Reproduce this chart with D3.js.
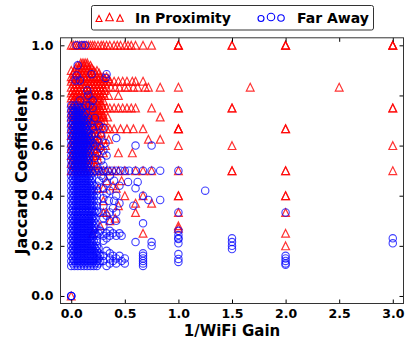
<!DOCTYPE html>
<html>
<head>
<meta charset="utf-8">
<script src="https://cdn.jsdelivr.net/npm/d3@7"></script>
<style>
  html, body { margin: 0; padding: 0; background: #fff; }
  svg { display: block; font-family: "DejaVu Sans", sans-serif; }
</style>
</head>
<body>
<div id="chart"></div>
<script>
// tick values
const xTicks = [0, 0.5, 1.0, 1.5, 2.0, 2.5, 3.0];
const yTicks = [0, 0.2, 0.4, 0.6, 0.8, 1.0];

// series names
const seriesNames = ['In Proximity', 'Far Away'];

// In Proximity: rows of [jaccard, list of 1/wifi gain values]
const proximityRows = [
  [1.0, [0, 0.02, 0.04, 0.06, 0.08, 0.1, 0.12, 0.14, 0.16, 0.18, 0.2, 0.22, 0.25, 0.28, 0.3, 0.33, 0.36, 0.4, 0.43, 0.46, 0.5, 0.53, 0.56, 0.6, 0.67, 0.75, 1, 1, 1, 1.5, 1.5, 2, 2, 2, 3, 3, 3]],
  [0.93, [0.09, 0.11, 0.13, 0.15]],
  [0.92, [0.06, 0.09, 0.12, 0.15, 0.18]],
  [0.91, [0.04, 0.07, 0.1, 0.13, 0.16, 0.19]],
  [0.9, [0, 0.03, 0.06, 0.09, 0.12, 0.15, 0.18, 0.21, 0.24]],
  [0.89, [0.02, 0.05, 0.08, 0.11, 0.14, 0.17, 0.2, 0.23, 0.26]],
  [0.875, [0, 0.03, 0.06, 0.09, 0.12, 0.15, 0.18, 0.21, 0.24, 0.27, 0.3, 0.33]],
  [0.867, [0.01, 0.04, 0.07, 0.1, 0.13, 0.16, 0.19, 0.22, 0.25, 0.28, 0.31, 0.35]],
  [0.857, [0, 0.03, 0.06, 0.09, 0.12, 0.15, 0.18, 0.21, 0.24, 0.27, 0.3, 0.33, 0.36, 0.4, 0.44, 0.48, 0.52, 0.57, 0.6, 0.67]],
  [0.846, [0.02, 0.05, 0.08, 0.11, 0.14, 0.17, 0.2, 0.23, 0.26, 0.29, 0.32]],
  [0.833, [0, 0.03, 0.06, 0.09, 0.12, 0.15, 0.18, 0.21, 0.24, 0.27, 0.3, 0.33, 0.37, 0.41, 0.45, 0.5, 0.53, 0.58, 0.62, 0.69, 0.72, 0.83, 1, 1.67, 2.5]],
  [0.82, [0.01, 0.04, 0.07, 0.1, 0.13, 0.16, 0.19, 0.22, 0.25, 0.28, 0.31]],
  [0.81, [0, 0.03, 0.06, 0.09, 0.12, 0.15, 0.18, 0.21, 0.24, 0.27, 0.3]],
  [0.8, [0.01, 0.04, 0.07, 0.1, 0.13, 0.16, 0.19, 0.22, 0.25, 0.28, 0.31, 0.35, 0.44]],
  [0.79, [0, 0.03, 0.06, 0.09, 0.12, 0.15, 0.18, 0.21, 0.24, 0.27]],
  [0.78, [0.02, 0.05, 0.08, 0.11, 0.14, 0.17, 0.2, 0.23, 0.26, 0.3]],
  [0.77, [0, 0.03, 0.06, 0.09, 0.12, 0.15, 0.18, 0.21, 0.24, 0.28]],
  [0.76, [0.02, 0.05, 0.08, 0.11, 0.14, 0.17, 0.2, 0.23, 0.26, 0.29]],
  [0.75, [0, 0.03, 0.06, 0.09, 0.12, 0.15, 0.18, 0.21, 0.24, 0.27, 0.3, 0.33, 0.36, 0.4, 0.44, 0.48, 0.52, 0.56, 0.6, 0.75, 1, 1, 1.5, 1.5, 3, 3]],
  [0.74, [0.01, 0.04, 0.07, 0.1, 0.13, 0.16, 0.19, 0.22, 0.25, 0.28]],
  [0.73, [0, 0.03, 0.06, 0.09, 0.12, 0.15, 0.18, 0.21, 0.24, 0.27]],
  [0.722, [0.02, 0.05, 0.08, 0.11, 0.14, 0.17, 0.2, 0.23, 0.26, 0.3]],
  [0.714, [0, 0.03, 0.06, 0.09, 0.12, 0.15, 0.18, 0.21, 0.24, 0.27, 0.3, 0.34, 0.83]],
  [0.7, [0.01, 0.04, 0.07, 0.1, 0.13, 0.16, 0.19, 0.22, 0.25, 0.28, 0.31]],
  [0.69, [0, 0.03, 0.06, 0.09, 0.12, 0.15, 0.18, 0.21, 0.24, 0.27]],
  [0.68, [0.02, 0.05, 0.08, 0.11, 0.14, 0.17, 0.2, 0.23, 0.26]],
  [0.667, [0, 0.03, 0.06, 0.09, 0.12, 0.15, 0.18, 0.21, 0.24, 0.27, 0.3, 0.33, 0.36, 0.4, 0.46, 0.52, 0.58, 0.67, 1, 1, 1, 2, 2]],
  [0.65, [0.01, 0.04, 0.07, 0.1, 0.13, 0.16, 0.19, 0.22, 0.25, 0.28]],
  [0.64, [0, 0.03, 0.06, 0.09, 0.12, 0.15, 0.18, 0.21, 0.24]],
  [0.625, [0.02, 0.05, 0.08, 0.11, 0.14, 0.17, 0.2, 0.23, 0.26, 0.3, 0.35, 0.72, 0.83]],
  [0.61, [0, 0.03, 0.06, 0.09, 0.12, 0.15, 0.18, 0.21, 0.24]],
  [0.6, [0.01, 0.04, 0.07, 0.1, 0.13, 0.16, 0.19, 0.22, 0.25, 0.28, 0.32, 1, 1.5, 3]],
  [0.588, [0, 0.03, 0.06, 0.09, 0.12, 0.15, 0.18, 0.21, 0.24]],
  [0.571, [0.02, 0.05, 0.08, 0.11, 0.14, 0.17, 0.2, 0.23, 0.26, 0.3, 0.44, 0.57]],
  [0.56, [0, 0.03, 0.06, 0.09, 0.12, 0.15, 0.18, 0.21, 0.24]],
  [0.545, [0.01, 0.04, 0.07, 0.1, 0.13, 0.16, 0.19, 0.22, 0.25]],
  [0.53, [0, 0.03, 0.06, 0.09, 0.12, 0.15, 0.18, 0.21]],
  [0.52, [0.02, 0.05, 0.08, 0.11, 0.14, 0.17, 0.2, 0.23]],
  [0.5, [0, 0.03, 0.06, 0.09, 0.12, 0.15, 0.18, 0.21, 0.24, 0.27, 0.3, 0.33, 0.36, 0.4, 0.44, 0.5, 0.6, 0.67, 0.75, 1, 1.5, 1.5, 2, 2, 3]],
  [0.46, [0.33, 0.47]],
  [0.44, [0.39]],
  [0.43, [0.25, 0.3, 0.42]],
  [0.4, [0.5, 0.67, 1, 1, 2, 2]],
  [0.38, [0.3]],
  [0.37, [0.6, 0.75]],
  [0.36, [0.44]],
  [0.333, [0.3, 0.33, 0.6, 1, 2]],
  [0.31, [0.41]],
  [0.3, [0.36]],
  [0.28, [0.27, 1]],
  [0.27, [1]],
  [0.25, [0.2, 0.67, 2]],
  [0.2, [2]],
  [0, [0]]
];

// Far Away: rows of [jaccard, list of 1/wifi gain values]
const farAwayRows = [
  [1.0, [0.05, 0.1, 0.13]],
  [0.92, [0.06]],
  [0.885, [0.19, 0.33]],
  [0.88, [0.05]],
  [0.87, [0.32]],
  [0.86, [0.04, 0.08]],
  [0.82, [0.15]],
  [0.8, [0.16]],
  [0.78, [0.08, 0.2]],
  [0.76, [0, 0.03, 0.06, 0.14, 0.17]],
  [0.75, [0.015, 0.045, 0.075, 0.105, 0.2]],
  [0.74, [0, 0.03, 0.06, 0.09]],
  [0.73, [0.015, 0.045, 0.075, 0.105, 0.135]],
  [0.72, [0, 0.03, 0.06, 0.09, 0.12]],
  [0.71, [0.015, 0.045, 0.075, 0.105, 0.16, 0.22]],
  [0.7, [0, 0.03, 0.06, 0.09, 0.12, 0.15]],
  [0.69, [0.015, 0.045, 0.075, 0.105, 0.135, 0.18]],
  [0.68, [0, 0.03, 0.06, 0.09, 0.12, 0.15, 0.26]],
  [0.67, [0.015, 0.045, 0.075, 0.105, 0.135, 0.2, 0.3]],
  [0.66, [0, 0.03, 0.06, 0.09, 0.12, 0.15]],
  [0.65, [0.015, 0.045, 0.075, 0.105, 0.135, 0.165, 0.22]],
  [0.64, [0, 0.03, 0.06, 0.09, 0.12, 0.15, 0.19, 0.28]],
  [0.63, [0.015, 0.045, 0.075, 0.105, 0.135, 0.165, 0.42]],
  [0.62, [0, 0.03, 0.06, 0.09, 0.12, 0.15, 0.18, 0.24]],
  [0.61, [0.015, 0.045, 0.075, 0.105, 0.135, 0.165, 0.2, 0.32]],
  [0.6, [0, 0.03, 0.06, 0.09, 0.12, 0.15, 0.18, 0.22, 0.6, 0.75]],
  [0.59, [0.015, 0.045, 0.075, 0.105, 0.135, 0.165, 0.27]],
  [0.58, [0, 0.03, 0.06, 0.09, 0.12, 0.15, 0.3]],
  [0.57, [0.015, 0.045, 0.075, 0.105, 0.135, 0.165, 0.24]],
  [0.56, [0, 0.03, 0.06, 0.09, 0.12, 0.15, 0.33]],
  [0.55, [0.015, 0.045, 0.075, 0.105, 0.135, 0.165, 0.22]],
  [0.54, [0, 0.03, 0.06, 0.09, 0.12, 0.15, 0.28]],
  [0.53, [0.015, 0.045, 0.075, 0.105, 0.135, 0.165]],
  [0.52, [0, 0.03, 0.06, 0.09, 0.12, 0.15, 0.3]],
  [0.51, [0.015, 0.045, 0.075, 0.105, 0.135, 0.165, 0.25]],
  [0.5, [0, 0.03, 0.06, 0.09, 0.12, 0.15, 0.18, 0.22, 0.26, 0.3, 0.34, 0.38, 0.42, 0.46, 0.5, 0.54, 0.6, 0.67, 0.75, 0.83, 1]],
  [0.49, [0.015, 0.045, 0.075, 0.105, 0.135, 0.165, 0.195]],
  [0.48, [0, 0.03, 0.06, 0.09, 0.12, 0.15, 0.18, 0.28, 0.36]],
  [0.47, [0.015, 0.045, 0.075, 0.105, 0.135, 0.165, 0.195, 0.3]],
  [0.46, [0, 0.03, 0.06, 0.09, 0.12, 0.15, 0.18, 0.26, 0.4]],
  [0.455, [0.53, 0.62]],
  [0.45, [0.015, 0.045, 0.075, 0.105, 0.135, 0.165, 0.195, 0.33]],
  [0.44, [0, 0.03, 0.06, 0.09, 0.12, 0.15, 0.18, 0.21, 0.24, 0.45]],
  [0.43, [0.015, 0.045, 0.075, 0.105, 0.135, 0.165, 0.195, 0.3, 0.6]],
  [0.42, [0, 0.03, 0.06, 0.09, 0.12, 0.15, 0.18, 0.21, 0.24, 0.36, 1.25]],
  [0.41, [0.015, 0.045, 0.075, 0.105, 0.135, 0.165, 0.195, 0.33]],
  [0.4, [0, 0.03, 0.06, 0.09, 0.12, 0.15, 0.18, 0.21, 0.24, 0.42, 0.67]],
  [0.39, [0.015, 0.045, 0.075, 0.105, 0.135, 0.165, 0.195, 0.3]],
  [0.383, [0.72, 0.83]],
  [0.38, [0, 0.03, 0.06, 0.09, 0.12, 0.15, 0.18, 0.21, 0.24, 0.35, 0.4]],
  [0.37, [0.015, 0.045, 0.075, 0.105, 0.135, 0.165, 0.195, 0.45]],
  [0.36, [0, 0.03, 0.06, 0.09, 0.12, 0.15, 0.18, 0.21, 0.24, 0.3, 0.58]],
  [0.35, [0.015, 0.045, 0.075, 0.105, 0.135, 0.165, 0.195, 0.39]],
  [0.34, [0, 0.03, 0.06, 0.09, 0.12, 0.15, 0.18, 0.21, 0.24]],
  [0.333, [0.015, 0.045, 0.075, 0.105, 0.135, 0.165, 0.195, 0.225, 0.255, 0.36, 0.42, 1, 2]],
  [0.32, [0, 0.03, 0.06, 0.09, 0.12, 0.15, 0.18, 0.21, 0.33]],
  [0.31, [0.015, 0.045, 0.075, 0.105, 0.135, 0.165, 0.195, 0.225, 0.3]],
  [0.3, [0, 0.03, 0.06, 0.09, 0.12, 0.15, 0.18, 0.21, 0.36, 0.42]],
  [0.29, [0.015, 0.045, 0.075, 0.105, 0.135, 0.165, 0.195, 0.225, 0.67]],
  [0.28, [0, 0.03, 0.06, 0.09, 0.12, 0.15, 0.18, 0.21, 0.3]],
  [0.27, [0.015, 0.045, 0.075, 0.105, 0.135, 0.165, 0.195, 0.225]],
  [0.26, [0, 0.03, 0.06, 0.09, 0.12, 0.15, 0.18, 0.21, 0.27, 0.36, 1]],
  [0.25, [0.015, 0.045, 0.075, 0.105, 0.135, 0.165, 0.195, 0.225, 0.255, 0.33, 0.39, 0.45]],
  [0.243, [1]],
  [0.24, [0, 0.03, 0.06, 0.09, 0.12, 0.15, 0.18, 0.21, 0.24, 0.3, 0.36, 0.42, 0.47]],
  [0.23, [0.015, 0.045, 0.075, 0.105, 0.135, 0.165, 0.195, 0.33, 1, 1.5, 3]],
  [0.227, [1]],
  [0.22, [0, 0.03, 0.06, 0.09, 0.12, 0.15, 0.18, 0.21, 0.24, 0.3]],
  [0.215, [0.6, 0.75, 1.5]],
  [0.21, [0.015, 0.045, 0.075, 0.105, 0.135, 0.165, 0.195, 1, 3]],
  [0.2, [0, 0.03, 0.06, 0.09, 0.12, 0.15, 0.18, 0.21, 0.24, 0.75, 1.5]],
  [0.19, [0.015, 0.045, 0.075, 0.105, 0.135, 0.165, 0.195, 0.225, 0.255]],
  [0.187, [1.5]],
  [0.18, [0, 0.03, 0.06, 0.09, 0.12, 0.15, 0.18, 0.21, 0.24, 0.33]],
  [0.17, [0.015, 0.045, 0.075, 0.105, 0.135, 0.165, 0.195, 0.225, 0.255, 0.36, 0.67]],
  [0.167, [1]],
  [0.16, [0, 0.03, 0.06, 0.09, 0.12, 0.15, 0.18, 0.21, 0.24, 0.27, 0.3, 0.39, 0.45, 0.67, 2]],
  [0.15, [0.015, 0.045, 0.075, 0.105, 0.135, 0.165, 0.195, 0.225, 0.255, 0.36, 0.42, 0.5, 0.67, 2]],
  [0.148, [1]],
  [0.14, [0, 0.03, 0.06, 0.09, 0.12, 0.15, 0.18, 0.21, 0.24, 0.27, 0.3, 0.39, 0.47, 0.67, 2]],
  [0.136, [1]],
  [0.13, [0.015, 0.045, 0.075, 0.105, 0.135, 0.165, 0.195, 0.225, 0.255, 0.36, 0.42, 0.5, 0.67, 2]],
  [0.125, [2]],
  [0.12, [0, 0.03, 0.06, 0.09, 0.12, 0.15, 0.18, 0.21, 0.24, 0.33, 0.67]],
  [0, [0, 0, 0]]
];

const width = 409;
const height = 345;
const margin = { top: 37.8, right: 5.5, bottom: 41.5, left: 60.5 };

const svg = d3.select('#chart')
  .append('svg')
  .attr('width', width)
  .attr('height', height);

const x = d3.scaleLinear()
  .domain([-0.1, 3.1])
  .range([margin.left, width - margin.right]);

const y = d3.scaleLinear()
  .domain([-0.03, 1.03])
  .range([height - margin.bottom, margin.top]);

const toPoints = rows => rows.flatMap(([j, xs]) => xs.map(g => ({ x: g, y: j })));
const proximity = toPoints(proximityRows);
const farAway = toPoints(farAwayRows);

const tri = s => `M0,${-s / 2}L${s / 2},${s / 2}L${-s / 2},${s / 2}Z`;

const plot = svg.append('g');

plot.selectAll('path.prox')
  .data(proximity)
  .enter()
  .append('path')
  .attr('class', 'prox')
  .attr('transform', d => `translate(${x(d.x)},${y(d.y)})`)
  .attr('d', tri(7.8))
  .attr('fill', 'none')
  .attr('stroke', '#ff0000')
  .attr('stroke-width', 1.2)
  .attr('stroke-opacity', 0.8);

plot.selectAll('circle.far')
  .data(farAway)
  .enter()
  .append('circle')
  .attr('class', 'far')
  .attr('cx', d => x(d.x))
  .attr('cy', d => y(d.y))
  .attr('r', 3.7)
  .attr('fill', 'none')
  .attr('stroke', '#0000ff')
  .attr('stroke-width', 1.1)
  .attr('stroke-opacity', 0.75);

// axes, ticks pointing inward on all four sides
const fmt = d3.format('.1f');
const axisFont = g => g.selectAll('text')
  .style('font-family', '"DejaVu Sans", sans-serif')
  .style('font-weight', 'bold')
  .style('font-size', '12.5px')
  .attr('fill', '#000');

svg.append('g')
  .attr('transform', `translate(0,${height - margin.bottom})`)
  .call(d3.axisBottom(x).tickValues(xTicks).tickFormat(fmt).tickSizeInner(-4).tickSizeOuter(0).tickPadding(6))
  .call(g => g.select('.domain').remove())
  .call(axisFont);

svg.append('g')
  .attr('transform', `translate(0,${margin.top})`)
  .call(d3.axisTop(x).tickValues(xTicks).tickFormat('').tickSizeInner(-4).tickSizeOuter(0))
  .call(g => g.select('.domain').remove());

svg.append('g')
  .attr('transform', `translate(${margin.left},0)`)
  .call(d3.axisLeft(y).tickValues(yTicks).tickFormat(fmt).tickSizeInner(-4).tickSizeOuter(0).tickPadding(7))
  .call(g => g.select('.domain').remove())
  .call(axisFont);

svg.append('g')
  .attr('transform', `translate(${width - margin.right},0)`)
  .call(d3.axisRight(y).tickValues(yTicks).tickFormat('').tickSizeInner(-4).tickSizeOuter(0))
  .call(g => g.select('.domain').remove());

svg.selectAll('.tick line').attr('stroke', '#000');

svg.append('rect')
  .attr('x', margin.left)
  .attr('y', margin.top)
  .attr('width', width - margin.left - margin.right)
  .attr('height', height - margin.top - margin.bottom)
  .attr('fill', 'none')
  .attr('stroke', '#333')
  .attr('stroke-width', 1);

svg.append('text')
  .attr('x', (margin.left + width - margin.right) / 2)
  .attr('y', 336)
  .attr('text-anchor', 'middle')
  .style('font-weight', 'bold')
  .style('font-size', '15px')
  .text('1/WiFi Gain');

svg.append('text')
  .attr('transform', `translate(27,${(margin.top + height - margin.bottom) / 2}) rotate(-90)`)
  .attr('text-anchor', 'middle')
  .style('font-weight', 'bold')
  .style('font-size', '16px')
  .text('Jaccard Coefficient');

// legend
const legend = svg.append('g');
legend.append('rect')
  .attr('x', 91.5)
  .attr('y', 5.5)
  .attr('width', 282)
  .attr('height', 24.5)
  .attr('rx', 2)
  .attr('fill', '#fff')
  .attr('stroke', '#333')
  .attr('stroke-width', 1);

const legendSizes = [6, 7.5, 6.5];
const legendDy = [1, -0.5, 0.5];
legendSizes.forEach((s, i) => {
  legend.append('path')
    .attr('transform', `translate(${99 + i * 10.5},${17.5 + legendDy[i]})`)
    .attr('d', tri(s))
    .attr('fill', 'none')
    .attr('stroke', '#ff0000')
    .attr('stroke-width', 1.1);
  legend.append('circle')
    .attr('cx', 261 + i * 10)
    .attr('cy', 17.5 + legendDy[i])
    .attr('r', s / 2)
    .attr('fill', 'none')
    .attr('stroke', '#0000ff')
    .attr('stroke-width', 1.1);
});

legend.append('text')
  .attr('x', 135)
  .attr('y', 22.5)
  .style('font-weight', 'bold')
  .style('font-size', '14px')
  .text(seriesNames[0]);

legend.append('text')
  .attr('x', 297)
  .attr('y', 22.5)
  .style('font-weight', 'bold')
  .style('font-size', '14px')
  .text(seriesNames[1]);
</script>
</body>
</html>
